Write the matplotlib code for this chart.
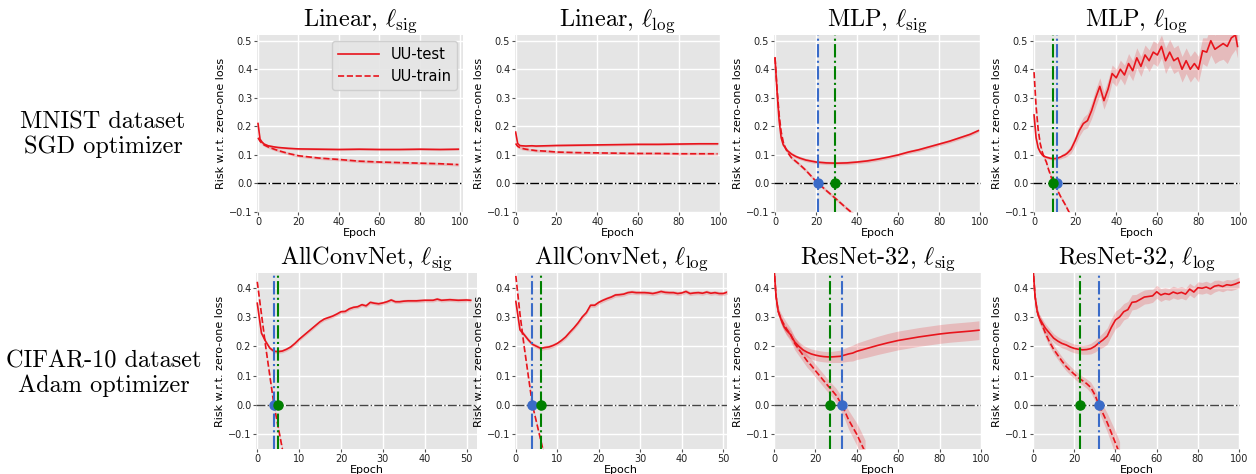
import numpy as np
import matplotlib
matplotlib.use("Agg")
import matplotlib.pyplot as plt

plt.rcParams['mathtext.fontset'] = 'cm'
plt.rcParams['font.family'] = 'DejaVu Sans'

# ---- MNIST / SGD ----
# Linear, l_sig
ep1 = [0, 1, 2, 3, 5, 8, 10, 15, 20, 30, 40, 50, 60, 70, 80, 90, 99]
test1 = [0.21, 0.155, 0.145, 0.138, 0.132, 0.128, 0.126, 0.123, 0.121, 0.120, 0.119, 0.120, 0.119, 0.119, 0.120, 0.119, 0.120]
train1 = [0.16, 0.148, 0.14, 0.135, 0.128, 0.12, 0.115, 0.105, 0.097, 0.089, 0.084, 0.078, 0.075, 0.073, 0.071, 0.069, 0.066]

# Linear, l_log
ep2 = [0, 1, 2, 3, 5, 8, 10, 15, 20, 30, 40, 50, 60, 70, 80, 90, 99]
test2 = [0.18, 0.14, 0.133, 0.132, 0.131, 0.132, 0.131, 0.132, 0.133, 0.134, 0.135, 0.136, 0.137, 0.137, 0.138, 0.139, 0.139]
train2 = [0.14, 0.13, 0.126, 0.123, 0.12, 0.117, 0.115, 0.113, 0.11, 0.108, 0.107, 0.106, 0.105, 0.105, 0.104, 0.104, 0.104]

# MLP, l_sig
ep3 = [0, 1, 2, 3, 4, 5, 6, 8, 10, 12, 15, 20, 25, 30, 35, 40, 45, 50, 55, 60, 65, 70, 75, 80, 85, 90, 95, 99]
test3 = [0.44, 0.32, 0.22, 0.16, 0.135, 0.125, 0.115, 0.103, 0.095, 0.089, 0.082, 0.075, 0.072, 0.071, 0.072, 0.075,
         0.079, 0.085, 0.092, 0.1, 0.11, 0.118, 0.128, 0.138, 0.148, 0.16, 0.172, 0.185]
ep3_tr = [0, 1, 2, 3, 4, 5, 6, 8, 10, 12, 15, 20, 25, 30, 35, 40]
train3 = [0.44, 0.33, 0.24, 0.18, 0.145, 0.125, 0.11, 0.09, 0.078, 0.066, 0.046, 0.007, -0.025, -0.056, -0.088, -0.118]

# MLP, l_log
ep4 = [0, 1, 2, 3, 4, 5, 6, 7, 8, 9, 10, 11, 12, 13, 14, 15, 16, 17, 18, 19, 20,
       22, 24, 26, 28, 30, 32, 34, 36, 38, 40, 42, 44, 46, 48, 50, 52, 54, 56, 58, 60,
       62, 64, 66, 68, 70, 72, 74, 76, 78, 80, 82, 84, 86, 88, 90, 92, 94, 96, 98, 99]
test4 = [0.24, 0.16, 0.125, 0.11, 0.1, 0.095, 0.092, 0.09, 0.088, 0.087, 0.087, 0.088, 0.09, 0.093, 0.097, 0.1,
         0.105, 0.112, 0.12, 0.135, 0.15,
         0.185, 0.21, 0.22, 0.255, 0.3, 0.34, 0.29, 0.33, 0.385, 0.37, 0.4, 0.38, 0.42, 0.395, 0.44,
         0.41, 0.45, 0.43, 0.46, 0.45, 0.48, 0.43, 0.46, 0.43, 0.44, 0.4, 0.43, 0.4, 0.42, 0.4,
         0.465, 0.46, 0.5, 0.47, 0.48, 0.49, 0.48, 0.51, 0.52, 0.48]
sd4 = [0.01, 0.008, 0.006, 0.005, 0.005, 0.005, 0.005, 0.005, 0.005, 0.005, 0.005, 0.005, 0.006, 0.007, 0.008, 0.009,
       0.01, 0.012, 0.014, 0.016, 0.018,
       0.02, 0.022, 0.025, 0.028, 0.03, 0.03, 0.03, 0.032, 0.03, 0.03, 0.032, 0.035, 0.035, 0.035, 0.035,
       0.035, 0.035, 0.038, 0.04, 0.04, 0.04, 0.045, 0.045, 0.045, 0.045, 0.045, 0.045, 0.045, 0.045, 0.045,
       0.045, 0.05, 0.05, 0.05, 0.05, 0.055, 0.06, 0.06, 0.05, 0.04]
ep4_tr = [0, 1, 2, 3, 4, 5, 6, 7, 8, 9, 10, 11, 13, 15, 17, 18]
train4 = [0.39, 0.27, 0.19, 0.14, 0.11, 0.09, 0.075, 0.05, 0.03, 0.006, -0.006, -0.018, -0.047, -0.072, -0.1, -0.115]

# ---- CIFAR-10 / Adam ----
# AllConvNet, l_sig
ep5 = [0, 1, 2, 3, 4, 5, 6, 7, 8, 9, 10, 11, 12, 13, 14, 15, 16, 17, 18, 19, 20, 21, 22, 23, 24, 25,
       26, 27, 28, 29, 30, 31, 32, 33, 34, 35, 36, 38, 40, 42, 43, 44, 46, 48, 50, 51]
test5 = [0.347, 0.245, 0.217, 0.194, 0.183, 0.182, 0.184, 0.19, 0.198, 0.21, 0.224, 0.236, 0.248, 0.26, 0.272,
         0.284, 0.293, 0.298, 0.303, 0.31, 0.318, 0.319, 0.328, 0.333, 0.335, 0.342, 0.338, 0.35, 0.347, 0.345,
         0.348, 0.352, 0.358, 0.352, 0.352, 0.354, 0.355, 0.355, 0.357, 0.357, 0.361, 0.357, 0.359, 0.357, 0.358, 0.357]
ep5_tr = [0, 1, 2, 3, 4, 5, 6]
train5 = [0.42, 0.31, 0.2, 0.1, 0.0, -0.075, -0.15]

# AllConvNet, l_log
ep6 = list(range(0, 52))
test6 = [0.353, 0.256, 0.24, 0.222, 0.207, 0.2, 0.193, 0.196, 0.198, 0.203, 0.21, 0.22, 0.232, 0.248, 0.263,
         0.28, 0.3, 0.315, 0.34, 0.34, 0.35, 0.357, 0.363, 0.368, 0.375, 0.376, 0.378, 0.383, 0.385, 0.383,
         0.383, 0.383, 0.382, 0.38, 0.383, 0.387, 0.384, 0.383, 0.383, 0.38, 0.382, 0.387, 0.38, 0.382, 0.383,
         0.381, 0.385, 0.381, 0.383, 0.38, 0.38, 0.385]
ep6_tr = [0, 1, 2, 3, 4, 5, 6, 7]
train6 = [0.44, 0.31, 0.2, 0.1, 0.0, -0.06, -0.12, -0.18]

# ResNet-32, l_sig
ep7 = [0, 1, 2, 3, 4, 5, 6, 8, 10, 12, 14, 16, 18, 20, 22, 24, 26, 28, 30, 32, 34, 36, 38, 40,
       45, 50, 55, 60, 65, 70, 75, 80, 85, 90, 95, 99]
test7 = [0.47, 0.37, 0.32, 0.3, 0.28, 0.265, 0.255, 0.24, 0.215, 0.2, 0.188, 0.18, 0.174, 0.17, 0.167, 0.165,
         0.164, 0.164, 0.165, 0.166, 0.17, 0.174, 0.177, 0.183, 0.193, 0.203, 0.212, 0.22, 0.226, 0.232, 0.237,
         0.242, 0.246, 0.249, 0.252, 0.255]
sd7 = [0.005, 0.008, 0.012, 0.012, 0.013, 0.013, 0.014, 0.015, 0.016, 0.016, 0.016, 0.017, 0.017, 0.018, 0.018,
       0.018, 0.018, 0.019, 0.02, 0.021, 0.023, 0.025, 0.027, 0.028, 0.03, 0.031, 0.032, 0.032, 0.032, 0.032,
       0.032, 0.032, 0.032, 0.032, 0.032, 0.032]
ep7_tr = [0, 1, 2, 3, 4, 6, 8, 10, 12, 14, 16, 18, 20, 22, 24, 26, 28, 30, 32, 34, 36, 38, 40, 42, 44]
train7 = [0.47, 0.37, 0.32, 0.3, 0.285, 0.26, 0.24, 0.21, 0.19, 0.17, 0.15, 0.135, 0.117, 0.1, 0.083, 0.066,
          0.05, 0.033, 0.01, -0.018, -0.05, -0.075, -0.1, -0.13, -0.16]
sd7_tr = [0.005, 0.01, 0.015, 0.018, 0.02, 0.022, 0.022, 0.022, 0.022, 0.022, 0.022, 0.022, 0.022, 0.022, 0.022,
          0.022, 0.022, 0.024, 0.026, 0.028, 0.032, 0.035, 0.038, 0.04, 0.04]

# ResNet-32, l_log
ep8 = [0, 1, 2, 3, 4, 6, 8, 10, 12, 14, 16, 18, 20, 22, 24, 26, 28, 30, 32, 34, 36, 38, 40, 42, 44, 46, 48,
       50, 52, 54, 56, 58, 60, 62, 64, 66, 68, 70, 72, 74, 76, 78, 80, 82, 84, 86, 88, 90, 92, 94, 96, 98, 100]
test8 = [0.47, 0.37, 0.32, 0.297, 0.285, 0.262, 0.245, 0.228, 0.218, 0.21, 0.205, 0.198, 0.193, 0.19, 0.188,
         0.189, 0.192, 0.2, 0.212, 0.222, 0.235, 0.265, 0.29, 0.3, 0.318, 0.325, 0.35, 0.352, 0.36, 0.368, 0.37,
         0.372, 0.386, 0.375, 0.38, 0.377, 0.385, 0.38, 0.384, 0.378, 0.395, 0.385, 0.4, 0.398, 0.402, 0.396,
         0.405, 0.408, 0.404, 0.41, 0.408, 0.412, 0.418]
sd8 = [0.005, 0.008, 0.012, 0.013, 0.014, 0.015, 0.015, 0.015, 0.015, 0.015, 0.015, 0.015, 0.015, 0.015, 0.015,
       0.016, 0.018, 0.02, 0.022, 0.025, 0.028, 0.03, 0.03, 0.03, 0.028, 0.028, 0.026, 0.025, 0.025, 0.024,
       0.024, 0.022, 0.022, 0.022, 0.02, 0.02, 0.02, 0.02, 0.02, 0.02, 0.02, 0.02, 0.02, 0.02, 0.02, 0.02,
       0.02, 0.018, 0.018, 0.018, 0.018, 0.018, 0.018]
ep8_tr = [0, 1, 2, 3, 4, 6, 8, 10, 12, 14, 16, 18, 20, 22, 24, 26, 28, 30, 32, 34, 36, 38, 40, 42]
train8 = [0.47, 0.37, 0.32, 0.295, 0.28, 0.245, 0.215, 0.19, 0.17, 0.15, 0.132, 0.118, 0.105, 0.093, 0.083,
          0.073, 0.06, 0.035, 0.0, -0.03, -0.06, -0.095, -0.13, -0.165]
sd8_tr = [0.005, 0.01, 0.014, 0.016, 0.016, 0.016, 0.016, 0.015, 0.015, 0.015, 0.015, 0.015, 0.015, 0.015,
          0.015, 0.016, 0.018, 0.02, 0.024, 0.028, 0.032, 0.036, 0.04, 0.04]

titles = [r"Linear, $\ell_{\mathrm{sig}}$", r"Linear, $\ell_{\mathrm{log}}$",
          r"MLP, $\ell_{\mathrm{sig}}$", r"MLP, $\ell_{\mathrm{log}}$",
          r"AllConvNet, $\ell_{\mathrm{sig}}$", r"AllConvNet, $\ell_{\mathrm{log}}$",
          r"ResNet-32, $\ell_{\mathrm{sig}}$", r"ResNet-32, $\ell_{\mathrm{log}}$"]
row_labels = ["MNIST dataset\nSGD optimizer", "CIFAR-10 dataset\nAdam optimizer"]
# epochs of the vertical markers: (blue, green)
marks = [None, None, (21, 29), (11, 9), (4, 5), (4, 6), (33, 27), (32, 23)]

BLUE = '#3a6bc8'
GREEN = '#008000'
RED = '#e8141c'

W, H = 1256, 474
fig = plt.figure(figsize=(W / 100, H / 100), dpi=100)

# pixel boxes (x0, x1, ytop, ybottom)
boxes = [(257, 463, 35, 212), (515, 720, 35, 212), (774, 981, 35, 212), (1033, 1240, 35, 212),
         (256, 477, 273, 449), (515, 727, 273, 449), (774, 981, 273, 449), (1033, 1240, 273, 449)]
xlims = [(-0.5, 101.3), (-0.3, 100.2), (-0.5, 100.3), (-0.5, 100.2),
         (-0.3, 52.5), (-0.2, 50.9), (0, 100), (0, 100.4)]

panels = [
    (ep1, test1, 0.004, ep1, train1, 0.005),
    (ep2, test2, 0.004, ep2, train2, 0.005),
    (ep3, test3, 0.006, ep3_tr, train3, 0.006),
    (ep4, test4, sd4, ep4_tr, train4, 0.006),
    (ep5, test5, 0.006, ep5_tr, train5, 0.006),
    (ep6, test6, 0.007, ep6_tr, train6, 0.006),
    (ep7, test7, sd7, ep7_tr, train7, sd7_tr),
    (ep8, test8, sd8, ep8_tr, train8, sd8_tr),
]

for i, (box, (ex, yt, st, etr, ytr, str_)) in enumerate(zip(boxes, panels)):
    x0, x1, yt_px, yb_px = box
    ax = fig.add_axes([x0 / W, 1 - yb_px / H, (x1 - x0) / W, (yb_px - yt_px) / H])
    ax.set_facecolor('#E5E5E5')
    for s in ax.spines.values():
        s.set_visible(False)
    ax.grid(True, color='white', lw=1.0)
    ax.set_axisbelow(True)

    ex = np.array(ex); yt = np.array(yt); st = np.array(st)
    etr = np.array(etr); ytr = np.array(ytr); str_ = np.array(str_)
    ax.fill_between(ex, yt - st, yt + st, color=RED, alpha=0.2, lw=0)
    ax.fill_between(etr, ytr - str_, ytr + str_, color=RED, alpha=0.2, lw=0)
    ax.plot(ex, yt, color=RED, lw=1.2, label='UU-test')
    ax.plot(etr, ytr, color=RED, lw=1.2, ls='--', label='UU-train')

    zc = 'black' if i < 4 else '#444444'
    ax.axhline(0, color=zc, lw=1.0, ls='-.')

    if marks[i] is not None:
        b, g = marks[i]
        ax.axvline(b, color=BLUE, lw=1.5, ls='-.')
        ax.axvline(g, color=GREEN, lw=1.5, ls='-.')
        ax.plot([b], [0], 'o', color=BLUE, ms=6.5, zorder=5)
        ax.plot([g], [0], 'o', color=GREEN, ms=6.5, zorder=5)

    ax.set_xlim(*xlims[i])
    if i < 4:
        ax.set_ylim(-0.1, 0.52)
        ax.set_yticks([-0.1, 0.0, 0.1, 0.2, 0.3, 0.4, 0.5])
        ax.set_xticks([0, 20, 40, 60, 80, 100])
    else:
        ax.set_ylim(-0.15, 0.45)
        ax.set_yticks([-0.1, 0.0, 0.1, 0.2, 0.3, 0.4])
        if i < 6:
            ax.set_xticks([0, 10, 20, 30, 40, 50])
        else:
            ax.set_xticks([0, 20, 40, 60, 80, 100])
    ax.tick_params(labelsize=7, length=2, color='#555555', labelcolor='#222222', pad=1.5)
    ax.set_xlabel('Epoch', fontsize=8, labelpad=0.5)
    ax.set_ylabel('Risk w.r.t. zero-one loss', fontsize=8, labelpad=2)
    ax.set_title(titles[i], fontsize=17.5, fontfamily='cmr10', pad=6)

    if i == 0:
        leg = ax.legend(loc='upper right', fontsize=10.5, facecolor='#E5E5E5', edgecolor='#CCCCCC',
                        framealpha=0.9, borderaxespad=0.4, handlelength=2.8)

fig.text(103 / W, 1 - 135 / H, row_labels[0], ha='center', va='center', fontsize=17.5,
         fontfamily='cmr10', linespacing=1.1)
fig.text(104 / W, 1 - 374 / H, row_labels[1], ha='center', va='center', fontsize=17.5,
         fontfamily='cmr10', linespacing=1.1)

fig.savefig('out.png', dpi=100)
